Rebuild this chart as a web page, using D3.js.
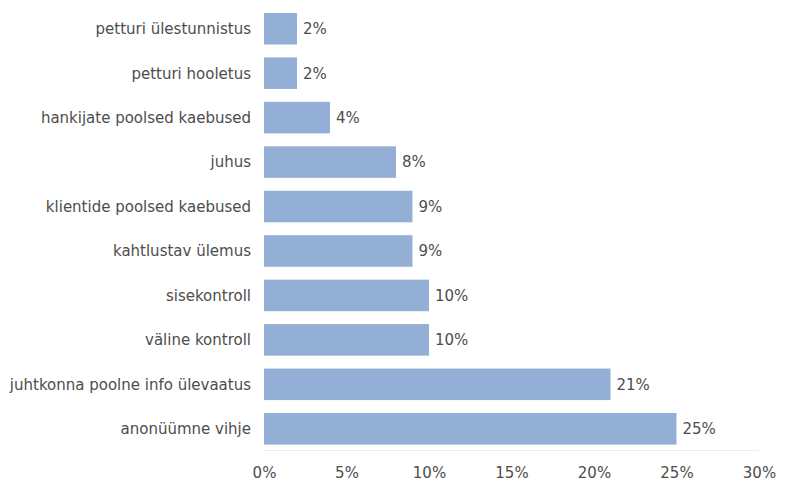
<!DOCTYPE html>
<html>
<head>
<meta charset="utf-8">
<script src="https://cdn.jsdelivr.net/npm/d3@7"></script>
<style>
  html, body { margin: 0; padding: 0; background: #fff; }
  svg text { font-family: "DejaVu Sans", Verdana, sans-serif; fill: #4d4d4d; }
</style>
</head>
<body>
<svg id="chart" width="787" height="486"></svg>
<script>
// Avastamise allikad (%)
const categories = [
  "petturi ülestunnistus",
  "petturi hooletus",
  "hankijate poolsed kaebused",
  "juhus",
  "klientide poolsed kaebused",
  "kahtlustav ülemus",
  "sisekontroll",
  "väline kontroll",
  "juhtkonna poolne info ülevaatus",
  "anonüümne vihje"
];
const values = [2, 2, 4, 8, 9, 9, 10, 10, 21, 25];
const tickValues = [0, 5, 10, 15, 20, 25, 30];

const svg = d3.select("#chart");

const x = d3.scaleLinear().domain([0, 30]).range([264, 759]);
const y = d3.scaleBand()
  .domain(categories)
  .range([6.5, 451])
  .paddingInner(0.29)
  .paddingOuter(0.145);

// faint baseline under the bars
svg.append("line")
  .attr("x1", x(0)).attr("x2", x(30))
  .attr("y1", 450.5).attr("y2", 450.5)
  .attr("stroke", "#ededed").attr("stroke-width", 1);

// bars
svg.append("g").selectAll("rect")
  .data(categories)
  .join("rect")
  .attr("x", x(0))
  .attr("y", d => y(d))
  .attr("width", (d, i) => x(values[i]) - x(0))
  .attr("height", y.bandwidth())
  .attr("fill", "#94afd5");

// value labels
svg.append("g").selectAll("text")
  .data(categories)
  .join("text")
  .attr("x", (d, i) => x(values[i]) + 6)
  .attr("y", d => y(d) + y.bandwidth() / 2)
  .attr("dy", "0.36em")
  .attr("font-size", 15)
  .text((d, i) => values[i] + "%");

// category axis
const yAxis = svg.append("g")
  .attr("transform", `translate(${x(0) - 13},0)`)
  .call(d3.axisLeft(y).tickSize(0).tickPadding(0));
yAxis.select(".domain").remove();
yAxis.selectAll("text").attr("font-size", 15).attr("font-family", null).attr("dy", "0.36em");

// value axis
const xAxis = svg.append("g")
  .attr("transform", "translate(0,467)")
  .call(d3.axisBottom(x).tickValues(tickValues).tickFormat(d => d + "%").tickSize(0).tickPadding(0));
xAxis.select(".domain").remove();
xAxis.selectAll("text").attr("font-size", 15).attr("dy", "0.72em").attr("font-family", null);
</script>
</body>
</html>
